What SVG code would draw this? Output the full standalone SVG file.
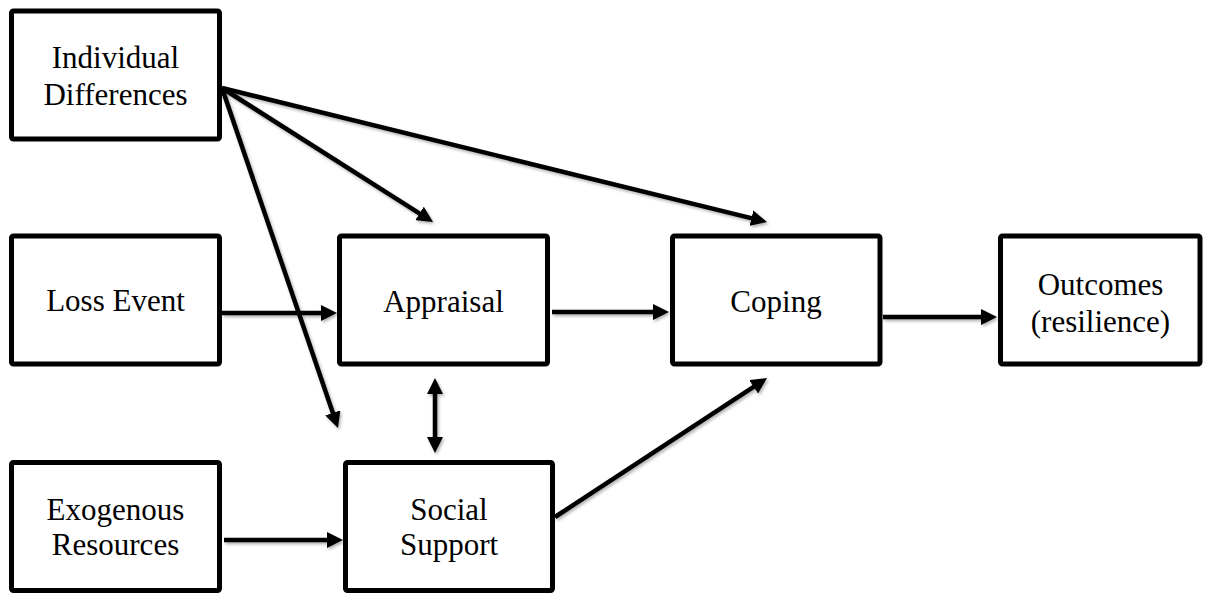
<svg xmlns="http://www.w3.org/2000/svg" width="1206" height="593" viewBox="0 0 1206 593">
<style>
.box{fill:#fff;stroke:#000;stroke-width:5;}
.lbl{font-family:"Liberation Serif","Times New Roman",serif;font-size:31px;fill:#000;text-anchor:middle;}
.conn line{stroke:#000;stroke-width:4.5;fill:none;marker-end:url(#ah);}
</style>
<defs>
<marker id="ah" markerUnits="userSpaceOnUse" markerWidth="16" markerHeight="16" refX="4" refY="8" orient="auto-start-reverse" viewBox="0 0 16 16">
<path d="M0,0 L16,8 L0,16 z" fill="#000"/>
</marker>
<filter id="sh" x="-10%" y="-10%" width="120%" height="120%">
<feDropShadow dx="1.5" dy="2" stdDeviation="1.5" flood-opacity="0.3"/>
</filter>
</defs>
<g id="connectors" class="conn" filter="url(#sh)">
<line x1="222" y1="313" x2="325" y2="313"/>
<line x1="552" y1="312" x2="657" y2="312"/>
<line x1="883" y1="317" x2="985" y2="317"/>
<line x1="224" y1="540" x2="331" y2="540"/>
<line x1="435" y1="390" x2="435" y2="441" style="marker-start:url(#ah)"/>
<line x1="555" y1="517" x2="757" y2="384.6"/>
<line x1="222" y1="88" x2="422.9" y2="215.6"/>
<line x1="222" y1="88" x2="755.3" y2="219.1"/>
<line x1="222" y1="88" x2="334.1" y2="416.6"/>
</g>
<g id="individual-differences">
<rect class="box" x="11.5" y="11" width="208" height="128" rx="2"/>
<text class="lbl" x="115.5" y="68">Individual</text>
<text class="lbl" x="115.5" y="105">Differences</text>
</g>
<g id="loss-event">
<rect class="box" x="11.5" y="236" width="208" height="128" rx="2"/>
<text class="lbl" x="115.5" y="311">Loss Event</text>
</g>
<g id="appraisal">
<rect class="box" x="339.5" y="236" width="208" height="128" rx="2"/>
<text class="lbl" x="443.5" y="312">Appraisal</text>
</g>
<g id="coping">
<rect class="box" x="672.5" y="236" width="207.5" height="128" rx="2"/>
<text class="lbl" x="776" y="312">Coping</text>
</g>
<g id="outcomes">
<rect class="box" x="1000.5" y="236" width="199.5" height="128" rx="2"/>
<text class="lbl" x="1100.5" y="295">Outcomes</text>
<text class="lbl" x="1100.5" y="332">(resilience)</text>
</g>
<g id="exogenous-resources">
<rect class="box" x="11.5" y="462.5" width="208" height="128" rx="2"/>
<text class="lbl" x="115.5" y="520">Exogenous</text>
<text class="lbl" x="115.5" y="555">Resources</text>
</g>
<g id="social-support">
<rect class="box" x="345.5" y="462.5" width="207" height="128" rx="2"/>
<text class="lbl" x="449" y="520">Social</text>
<text class="lbl" x="449" y="555">Support</text>
</g>
</svg>
